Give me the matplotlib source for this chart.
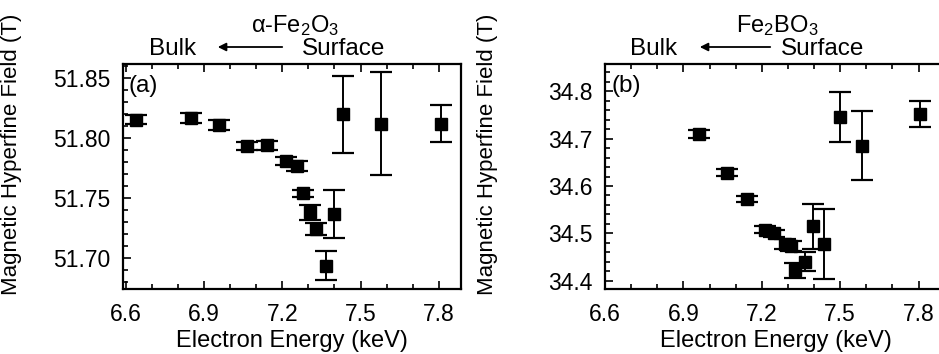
import numpy as np
import matplotlib.pyplot as plt
from matplotlib.ticker import MultipleLocator
from matplotlib.patches import FancyArrowPatch

plt.rcParams['font.family'] = ['Liberation Sans', 'DejaVu Sans']
plt.rcParams['mathtext.fontset'] = 'custom'
plt.rcParams['mathtext.rm'] = 'Liberation Sans'
plt.rcParams['mathtext.default'] = 'regular'

# panel (a): alpha-Fe2O3
energy_a = [6.638, 6.849, 6.958, 7.066, 7.143, 7.213, 7.258, 7.281, 7.306,
            7.328, 7.398, 7.366, 7.433, 7.580, 7.807]
field_a = [51.8155, 51.817, 51.811, 51.7935, 51.794, 51.781, 51.777, 51.754,
           51.738, 51.724, 51.737, 51.6935, 51.820, 51.812, 51.812]
err_a = [0.004, 0.004, 0.004, 0.003, 0.004, 0.003, 0.004, 0.003, 0.006,
         0.005, 0.020, 0.012, 0.032, 0.043, 0.0155]

# panel (b): FeBO3
energy_b = [6.958, 7.066, 7.143, 7.213, 7.245, 7.289, 7.313, 7.327, 7.366,
            7.395, 7.437, 7.500, 7.583, 7.807]
field_b = [34.710, 34.628, 34.572, 34.508, 34.500, 34.478, 34.474, 34.422,
           34.440, 34.515, 34.478, 34.745, 34.685, 34.752]
err_b = [0.008, 0.007, 0.006, 0.008, 0.008, 0.010, 0.010, 0.015, 0.020,
         0.047, 0.073, 0.052, 0.072, 0.028]

W, H = 939, 354
fig = plt.figure(figsize=(W / 100, H / 100), dpi=100)


def px_axes(x0, y0, x1, y1):
    return fig.add_axes([x0 / W, 1 - y1 / H, (x1 - x0) / W, (y1 - y0) / H])


ax_a = px_axes(123, 64, 461, 289)
ax_b = px_axes(605, 64, 946, 289)

fs = 16.5
for ax, x, y, e in [(ax_a, energy_a, field_a, err_a), (ax_b, energy_b, field_b, err_b)]:
    ax.errorbar(x, y, yerr=e, fmt='s', color='black', ms=9, elinewidth=1.4,
                capsize=8, capthick=1.6)
    ax.xaxis.set_major_locator(MultipleLocator(0.3))
    ax.xaxis.set_minor_locator(MultipleLocator(0.1))
    ax.tick_params(which='both', direction='in', top=True, labelsize=fs, width=1.2)
    ax.tick_params(which='major', length=6)
    ax.tick_params(which='minor', length=3.5)
    ax.tick_params(axis='x', pad=10)
    ax.tick_params(axis='y', pad=9)
    for s in ax.spines.values():
        s.set_linewidth(1.6)
    ax.set_xlabel('Electron Energy (keV)', fontsize=17, labelpad=3)
    ax.set_ylabel('Magnetic Hyperfine Field (T)', fontsize=16)

ax_a.set_xlim(6.59, 7.885)
ax_a.set_ylim(51.674, 51.862)
ax_a.yaxis.set_major_locator(MultipleLocator(0.05))
ax_a.yaxis.set_minor_locator(MultipleLocator(0.01))
ax_a.yaxis.set_major_formatter('{x:.2f}')
ax_a.yaxis.set_label_coords(-0.30, 0.6)
ax_a.text(0.015, 0.95, '(a)', transform=ax_a.transAxes, fontsize=17.5, va='top')

ax_b.set_xlim(6.6, 7.905)
ax_b.set_ylim(34.383, 34.857)
ax_b.yaxis.set_major_locator(MultipleLocator(0.1))
ax_b.yaxis.set_minor_locator(MultipleLocator(0.02))
ax_b.yaxis.set_major_formatter('{x:.1f}')
ax_b.yaxis.set_label_coords(-0.315, 0.6)
ax_b.text(0.02, 0.95, '(b)', transform=ax_b.transAxes, fontsize=17.5, va='top')

# headings above the panels
heads = [(295, 'α-Fe$_2$O$_3$', 173, 285, 215, 344),
         (777, 'Fe$_2$BO$_3$', 654, 773, 697, 823)]
for hx, title, bulk_x, a0, a1, surf_x in heads:
    fig.text(hx / W, 1 - 26 / H, title, ha='center', va='center', fontsize=17)
    fig.text(bulk_x / W, 1 - 49 / H, 'Bulk', ha='center', va='center', fontsize=17.5)
    fig.text(surf_x / W, 1 - 49 / H, 'Surface', ha='center', va='center', fontsize=17.5)
    fig.patches.append(FancyArrowPatch(
        (a0 / W, 1 - 47 / H), (a1 / W, 1 - 47 / H), transform=fig.transFigure,
        arrowstyle='-|>', mutation_scale=12, lw=1.3, color='black'))

fig.savefig('out.png', dpi=100)
